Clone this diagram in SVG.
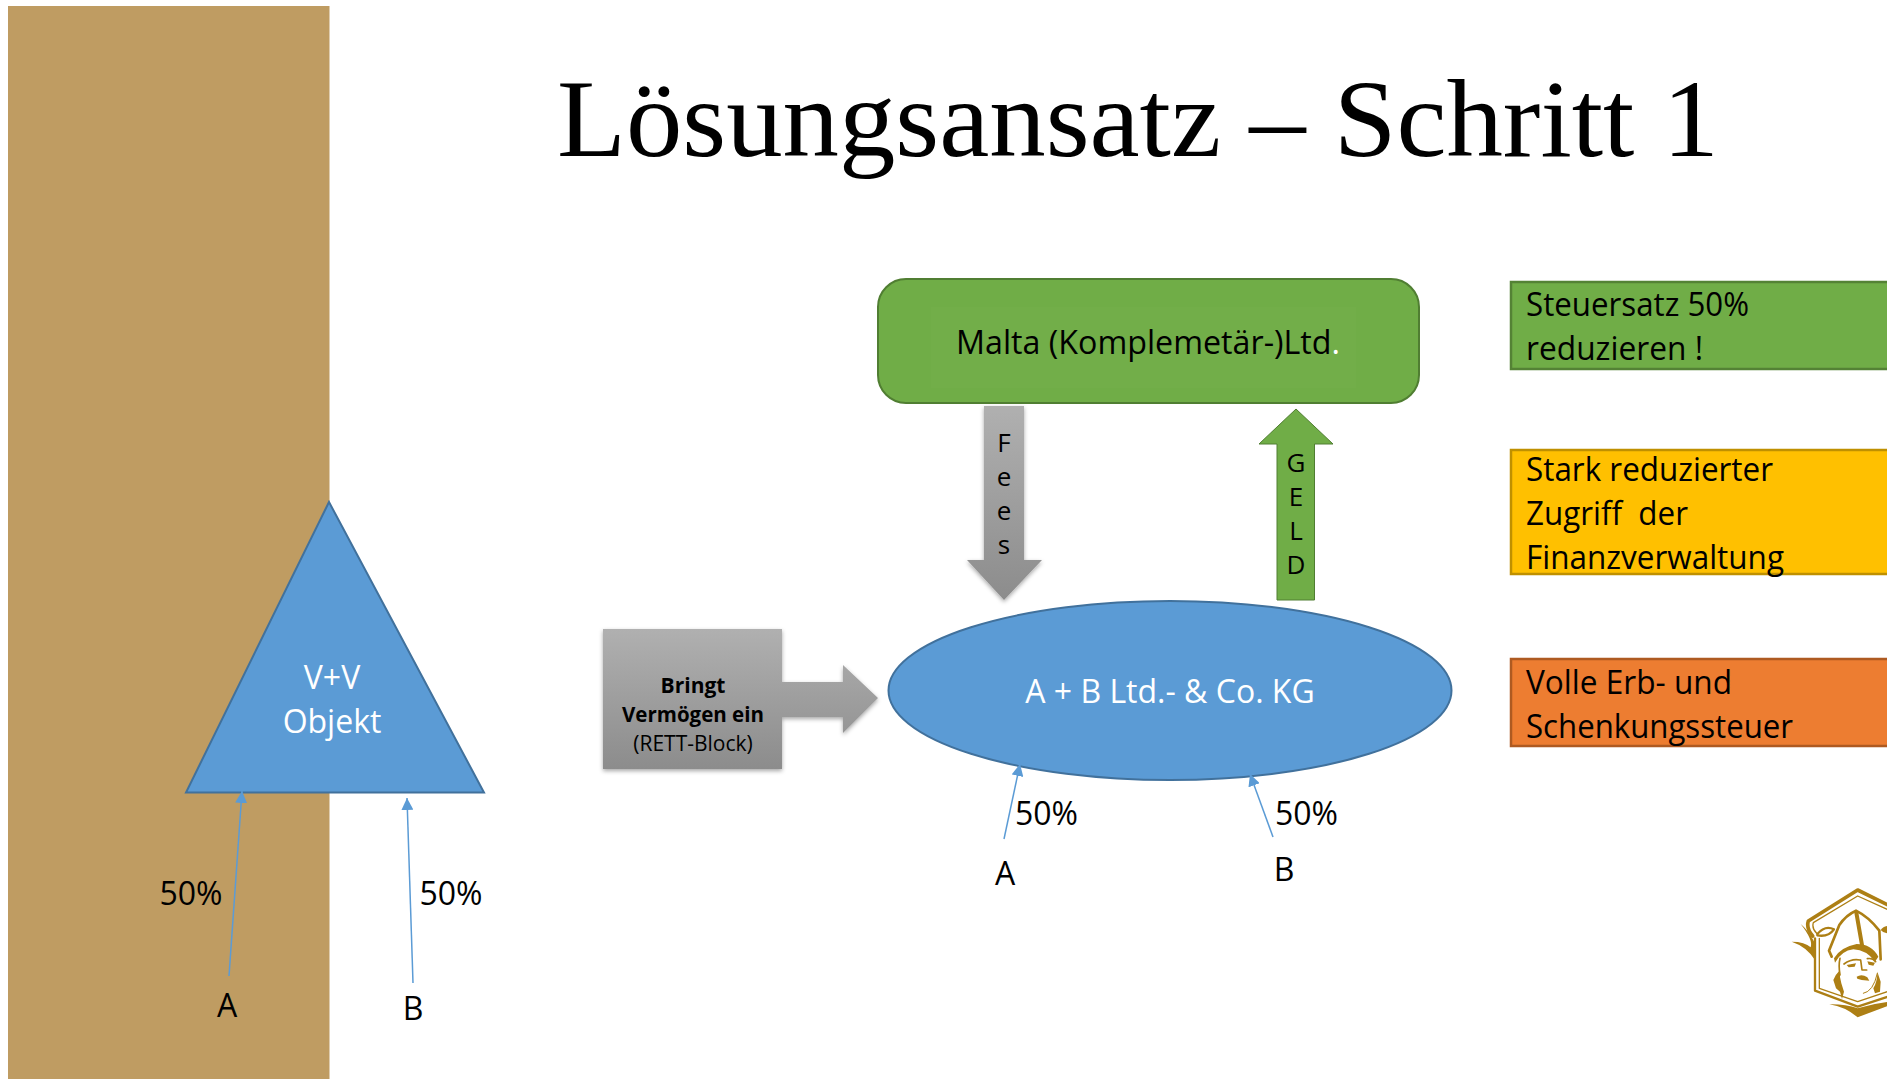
<svg xmlns="http://www.w3.org/2000/svg" width="1887" height="1079" viewBox="0 0 1887 1079">
<style>
text{font-family:"Open Sans","Liberation Sans",sans-serif;fill:#000;white-space:pre}
.m{text-anchor:middle}
.w{fill:#fff}
.l{font-size:32px}
.c{fill:none;stroke:#5B9BD5;stroke-width:1.5}
.lg{fill:none;stroke:#AD7F14;stroke-linecap:round;stroke-linejoin:round}
.lf{fill:#AD7F14}
</style>
<defs>
<marker id="a" markerUnits="userSpaceOnUse" markerWidth="14" markerHeight="12" refX="12" refY="6" orient="auto"><path d="M0 0L12 6L0 12z" fill="#5B9BD5"/></marker>
<linearGradient id="g" x1="0" y1="0" x2="0" y2="1"><stop offset="0" stop-color="#B0B0B0"/><stop offset="1" stop-color="#8C8C8C"/></linearGradient>
<filter id="s" x="-10%" y="-10%" width="120%" height="120%"><feDropShadow dx="0" dy="2" stdDeviation="2" flood-color="#000" flood-opacity=".35"/></filter>
</defs>
<rect width="1887" height="1079" fill="#fff"/>
<rect x="8" y="6" width="321.500" height="1073" fill="#BF9C62"/>
<text id="title" x="557" y="156" font-size="110" textLength="1162" lengthAdjust="spacingAndGlyphs" style="font-family:'Liberation Serif',serif">Lösungsansatz – Schritt 1</text>
<g id="malta"><rect x="878" y="279" width="541" height="124" rx="28" fill="#70AD47" stroke="#507E32" stroke-width="2"/><rect x="931" y="307" width="425" height="81" fill="#72AE49"/><text x="956" y="354" font-size="32" textLength="384" lengthAdjust="spacingAndGlyphs">Malta (Komplemetär-)Ltd<tspan fill="#fff">.</tspan></text></g>
<g id="kg"><ellipse cx="1170" cy="690.500" rx="281.500" ry="89.500" fill="#5B9BD5" stroke="#41719C" stroke-width="2"/><text class="m w" x="1170" y="703" font-size="32">A + B Ltd.- &amp; Co. KG</text></g>
<g id="fees"><path d="M984 406H1024V560H1042L1004 600L967 560H984z" fill="url(#g)" filter="url(#s)"/><text class="m" x="1004" y="452" font-size="26">F</text><text class="m" x="1004" y="486" font-size="26">e</text><text class="m" x="1004" y="520" font-size="26">e</text><text class="m" x="1004" y="554" font-size="26">s</text></g>
<g id="geld"><path d="M1296 409L1333 444H1314.500V600H1277V444H1259z" fill="#70AD47" stroke="#507E32"/><text class="m" x="1296" y="472" font-size="26">G</text><text class="m" x="1296" y="506" font-size="26">E</text><text class="m" x="1296" y="540" font-size="26">L</text><text class="m" x="1296" y="574" font-size="26">D</text></g>
<g id="bringt"><path d="M603 629H782V682H843V665L878 698L843 733V717H782V769H603z" fill="url(#g)" filter="url(#s)"/><text class="m" x="693" y="693" font-size="21" font-weight="700">Bringt</text><text class="m" x="693" y="722" font-size="20.500" font-weight="700">Vermögen ein</text><text class="m" x="693" y="751" font-size="21">(RETT-Block)</text></g>
<g id="objekt"><path d="M329 502L484 792.500H186z" fill="#5B9BD5" stroke="#41719C" stroke-width="2"/><text class="m w" x="332" y="689" font-size="32">V+V</text><text class="m w" x="332" y="733" font-size="32">Objekt</text></g>
<g id="s1"><rect x="1511" y="282" width="380" height="87" fill="#70AD47" stroke="#548235" stroke-width="2.500"/><text class="l" x="1526" y="316" textLength="223" lengthAdjust="spacingAndGlyphs">Steuersatz 50%</text><text class="l" x="1526" y="360" textLength="177" lengthAdjust="spacingAndGlyphs">reduzieren !</text></g>
<g id="s2"><rect x="1511" y="450" width="380" height="124" fill="#FFC000" stroke="#BF9000" stroke-width="2.500"/><text class="l" x="1526" y="481" textLength="247" lengthAdjust="spacingAndGlyphs">Stark reduzierter</text><text class="l" x="1526" y="525" textLength="162" lengthAdjust="spacingAndGlyphs">Zugriff  der</text><text class="l" x="1526" y="569" textLength="258" lengthAdjust="spacingAndGlyphs">Finanzverwaltung</text></g>
<g id="s3"><rect x="1511" y="659" width="380" height="87" fill="#ED7D31" stroke="#AE5A21" stroke-width="2.500"/><text class="l" x="1526" y="694" textLength="206" lengthAdjust="spacingAndGlyphs">Volle Erb- und</text><text class="l" x="1526" y="738" textLength="267" lengthAdjust="spacingAndGlyphs">Schenkungssteuer</text></g>
<g id="connectors">
<line class="c" x1="229" y1="976" x2="242" y2="791" marker-end="url(#a)"/>
<line class="c" x1="413" y1="983" x2="407" y2="798" marker-end="url(#a)"/>
<line class="c" x1="1004" y1="839" x2="1020" y2="764" marker-end="url(#a)"/>
<line class="c" x1="1273" y1="837" x2="1250" y2="774" marker-end="url(#a)"/>
</g>
<g id="labels">
<text class="m l" x="191" y="905">50%</text><text class="m l" x="451" y="905">50%</text>
<text class="m l" x="227" y="1017">A</text><text class="m l" x="413" y="1020">B</text>
<text class="m l" x="1046.500" y="825">50%</text><text class="m l" x="1306.500" y="825">50%</text>
<text class="m l" x="1005" y="885">A</text><text class="m l" x="1284" y="881">B</text>
</g>
<g id="logo" transform="translate(1760 860) scale(.33333)">
<path class="lg" stroke-width="11" d="M390 138L293 90L145 183Q138 205 158 228"/>
<path class="lg" stroke-width="4" d="M390 152L293 108L160 188Q155 205 170 220"/>
<path class="lg" stroke-width="7" d="M165 235V392L293 440L390 408"/>
<path class="lg" stroke-width="4" d="M178 235V385L293 425L390 392"/>
<path class="lg" stroke-width="7" d="M172 222Q195 195 222 208Q205 232 172 226z"/>
<path class="lf" d="M95 245Q135 245 152 262Q160 240 122 192Q145 210 165 250V300Q140 260 95 245z"/>
<path class="lf" d="M208 433Q255 432 293 445Q340 430 390 425V435L293 472Q255 440 208 433z"/>
<path class="lf" d="M362 210Q372 195 390 198V220Q372 222 362 210z"/>
<path class="lg" stroke-width="8" d="M215 290L207 272L238 195Q258 165 288 152Q325 170 358 212L362 298"/>
<path class="lg" stroke-width="12" d="M289 158L306 255"/>
<path class="lf" d="M222 295Q240 262 290 252Q335 252 355 290L345 305Q320 270 280 268Q245 272 225 308z"/>
<path class="lg" stroke-width="5" d="M240 295Q235 315 240 345"/>
<path class="lf" d="M240 330Q225 345 220 360L228 385L240 395L246 417L252 395L244 370Q238 350 240 330z"/>
<path class="lg" stroke-width="5" d="M252 312Q275 295 300 300M322 296Q338 293 347 305"/>
<path class="lf" d="M260 315L288 310L284 320L266 322zM322 304L345 308L340 317L326 314z"/>
<path class="lg" stroke-width="5" d="M302 300L306 330L320 330"/>
<path class="lf" d="M290 350Q305 340 322 352L328 362L305 360L292 356z"/>
<path class="lg" stroke-width="3" d="M310 400Q340 395 352 340"/>
<path class="lf" d="M352 335L362 365L360 395L345 400L340 385Q352 365 352 335z"/>
</g>
</svg>
